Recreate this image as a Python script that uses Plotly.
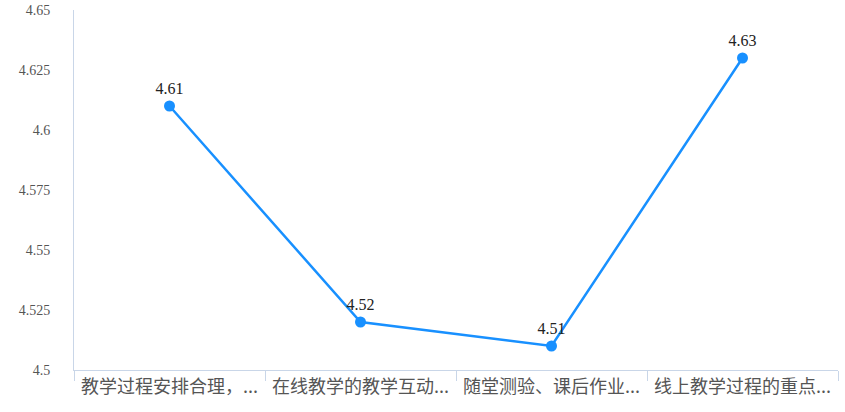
import plotly.graph_objects as go

# Data
categories = ["教学过程安排合理，...", "在线教学的教学互动...", "随堂测验、课后作业...", "线上教学过程的重点..."]
scores = [4.61, 4.52, 4.51, 4.63]
y_ticks = [4.5, 4.525, 4.55, 4.575, 4.6, 4.625, 4.65]
y_tick_labels = ["4.5", "4.525", "4.55", "4.575", "4.6", "4.625", "4.65"]

fig = go.Figure()

fig.add_trace(go.Scatter(
    x=categories,
    y=scores,
    mode='lines+markers+text',
    text=[f"{v:g}" for v in scores],
    textposition='top center',
    textfont=dict(family='Liberation Serif', size=16, color='#222222'),
    line=dict(color='#1890FF', width=2.5),
    marker=dict(size=11, color='#1890FF'),
    cliponaxis=False,
    showlegend=False
))

axis_color = '#C9D6E8'

fig.update_layout(
    width=845, height=412,
    margin=dict(l=74, r=7, t=10, b=42),
    plot_bgcolor='white',
    paper_bgcolor='white',
    xaxis=dict(
        type='category',
        range=[-0.5, 3.5],
        automargin=False,
        showgrid=False,
        showline=True, linecolor=axis_color, linewidth=1,
        ticks='outside', tickson='boundaries', ticklen=10, tickcolor=axis_color,
        tickfont=dict(family='Noto Sans CJK SC', size=18, color='#555555'),
        zeroline=False
    ),
    yaxis=dict(
        range=[4.5, 4.65],
        automargin=False,
        tickvals=y_ticks,
        ticktext=y_tick_labels,
        showgrid=False,
        showline=True, linecolor=axis_color, linewidth=1,
        ticks='', ticklabelstandoff=20,
        tickfont=dict(family='Liberation Serif', size=14, color='#555555'),
        zeroline=False
    )
)

# drop the default 8px page margin so the figure fills the window
fig.write_html("out.html", config={'displayModeBar': False},
               post_script="document.body.style.margin='0';")
